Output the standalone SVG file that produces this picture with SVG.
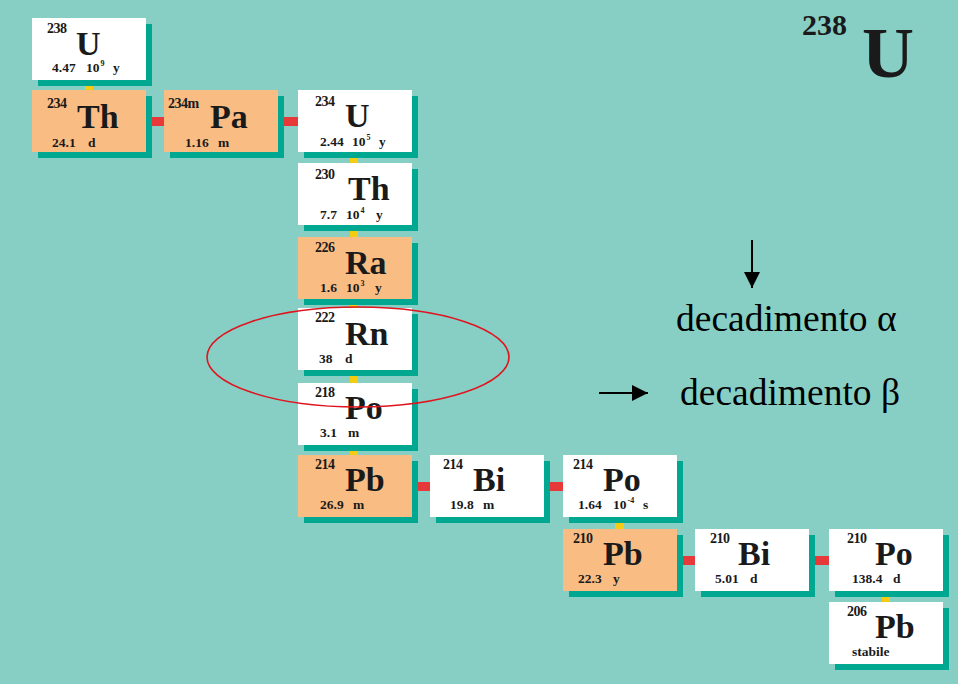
<svg xmlns="http://www.w3.org/2000/svg" width="958" height="684" viewBox="0 0 958 684">
<defs>
<style>
.bg{fill:#87cfc5}
.sh{fill:#00a892}
.w{fill:#ffffff}
.o{fill:#f9bc83}
.beta{fill:#e8393a}
.alpha{fill:#f5cc12}
text{font-family:"Liberation Serif","Times New Roman",serif;fill:#1a1a1a}
.m{font-size:14px;font-weight:bold;letter-spacing:-0.5px}
.s{font-size:34px;font-weight:bold}
.h{font-size:13.5px;font-weight:bold}
.sup{font-size:8px}
.lg{font-size:37.5px;fill:#000}
</style>
<marker id="ah" viewBox="0 0 16 16" refX="16" refY="8" markerWidth="16" markerHeight="16" markerUnits="userSpaceOnUse" orient="auto">
<path d="M0,0 L16,8 L0,16 Z" fill="#000"/>
</marker>
</defs>
<rect class="bg" x="0" y="0" width="958" height="684"/>

<g id="connectors">
<rect class="alpha" x="85" y="79" width="8" height="12"/>
<rect class="beta" x="145" y="117" width="20" height="9"/>
<rect class="beta" x="277" y="117" width="22" height="9"/>
<rect class="alpha" x="350" y="151" width="8" height="13"/>
<rect class="alpha" x="350" y="224" width="8" height="14"/>
<rect class="alpha" x="350" y="298" width="8" height="11"/>
<rect class="alpha" x="350" y="370" width="8" height="14"/>
<rect class="alpha" x="350" y="444" width="8" height="12"/>
<rect class="beta" x="411" y="482" width="20" height="9"/>
<rect class="beta" x="544" y="482" width="20" height="9"/>
<rect class="alpha" x="615" y="516" width="9" height="14"/>
<rect class="beta" x="676" y="556" width="20" height="9"/>
<rect class="beta" x="808" y="556" width="22" height="9"/>
<rect class="alpha" x="882" y="590" width="8" height="13"/>
</g>

<g id="U238" transform="translate(32,18)">
<rect class="sh" x="6" y="6" width="114" height="62"/>
<rect class="w" width="114" height="62"/>
<text class="m" x="15" y="15">238</text>
<text class="s" x="44" y="37">U</text>
<text class="h" x="20" y="54">4.47<tspan x="54">10</tspan><tspan class="sup" dx="1" dy="-6">9</tspan><tspan x="81" dy="6">y</tspan></text>
</g>

<g id="Th234" transform="translate(32,90)">
<rect class="sh" x="6" y="6" width="114" height="62"/>
<rect class="o" width="114" height="62"/>
<text class="m" x="15" y="18">234</text>
<text class="s" x="45" y="38">Th</text>
<text class="h" x="20" y="57">24.1<tspan x="56">d</tspan></text>
</g>

<g id="Pa234m" transform="translate(164,90)">
<rect class="sh" x="6" y="6" width="114" height="62"/>
<rect class="o" width="114" height="62"/>
<text class="m" x="4" y="18">234m</text>
<text class="s" x="46" y="38">Pa</text>
<text class="h" x="21" y="57">1.16<tspan x="54">m</tspan></text>
</g>

<g id="U234" transform="translate(298,90)">
<rect class="sh" x="6" y="6" width="114" height="62"/>
<rect class="w" width="114" height="62"/>
<text class="m" x="17" y="16">234</text>
<text class="s" x="47" y="37">U</text>
<text class="h" x="22" y="56">2.44<tspan x="54">10</tspan><tspan class="sup" dx="1" dy="-6">5</tspan><tspan x="81" dy="6">y</tspan></text>
</g>

<g id="Th230" transform="translate(298,163)">
<rect class="sh" x="6" y="6" width="114" height="62"/>
<rect class="w" width="114" height="62"/>
<text class="m" x="17" y="16">230</text>
<text class="s" x="50" y="37">Th</text>
<text class="h" x="22" y="56">7.7<tspan x="48">10</tspan><tspan class="sup" dx="1" dy="-6">4</tspan><tspan x="78" dy="6">y</tspan></text>
</g>

<g id="Ra226" transform="translate(298,237)">
<rect class="sh" x="6" y="6" width="114" height="62"/>
<rect class="o" width="114" height="62"/>
<text class="m" x="17" y="15">226</text>
<text class="s" x="47" y="37">Ra</text>
<text class="h" x="22" y="55">1.6<tspan x="48">10</tspan><tspan class="sup" dx="1" dy="-6">3</tspan><tspan x="77" dy="6">y</tspan></text>
</g>

<g id="Rn222" transform="translate(298,308)">
<rect class="sh" x="6" y="6" width="114" height="62"/>
<rect class="w" width="114" height="62"/>
<text class="m" x="17" y="14">222</text>
<text class="s" x="47" y="37">Rn</text>
<text class="h" x="21" y="55">38<tspan x="47">d</tspan></text>
</g>

<g id="Po218" transform="translate(298,383)">
<rect class="sh" x="6" y="6" width="114" height="62"/>
<rect class="w" width="114" height="62"/>
<text class="m" x="17" y="14">218</text>
<text class="s" x="47" y="36">Po</text>
<text class="h" x="22" y="54">3.1<tspan x="50">m</tspan></text>
</g>

<g id="Pb214" transform="translate(298,455)">
<rect class="sh" x="6" y="6" width="114" height="62"/>
<rect class="o" width="114" height="62"/>
<text class="m" x="17" y="14">214</text>
<text class="s" x="47" y="36">Pb</text>
<text class="h" x="22" y="54">26.9<tspan x="55">m</tspan></text>
</g>

<g id="Bi214" transform="translate(430,455)">
<rect class="sh" x="6" y="6" width="114" height="62"/>
<rect class="w" width="114" height="62"/>
<text class="m" x="13" y="14">214</text>
<text class="s" x="43" y="36">Bi</text>
<text class="h" x="20" y="54">19.8<tspan x="53">m</tspan></text>
</g>

<g id="Po214" transform="translate(563,455)">
<rect class="sh" x="6" y="6" width="114" height="62"/>
<rect class="w" width="114" height="62"/>
<text class="m" x="10" y="14">214</text>
<text class="s" x="40" y="36">Po</text>
<text class="h" x="15" y="54">1.64<tspan x="50">10</tspan><tspan class="sup" dx="1" dy="-6">-4</tspan><tspan x="80" dy="6">s</tspan></text>
</g>

<g id="Pb210" transform="translate(563,529)">
<rect class="sh" x="6" y="6" width="114" height="62"/>
<rect class="o" width="114" height="62"/>
<text class="m" x="10" y="14">210</text>
<text class="s" x="40" y="36">Pb</text>
<text class="h" x="15" y="54">22.3<tspan x="50">y</tspan></text>
</g>

<g id="Bi210" transform="translate(695,529)">
<rect class="sh" x="6" y="6" width="114" height="62"/>
<rect class="w" width="114" height="62"/>
<text class="m" x="15" y="14">210</text>
<text class="s" x="43" y="36">Bi</text>
<text class="h" x="20" y="54">5.01<tspan x="55">d</tspan></text>
</g>

<g id="Po210" transform="translate(829,529)">
<rect class="sh" x="6" y="6" width="114" height="62"/>
<rect class="w" width="114" height="62"/>
<text class="m" x="18" y="14">210</text>
<text class="s" x="46" y="36">Po</text>
<text class="h" x="23" y="54">138.4<tspan x="64">d</tspan></text>
</g>

<g id="Pb206" transform="translate(829,602)">
<rect class="sh" x="6" y="6" width="114" height="62"/>
<rect class="w" width="114" height="62"/>
<text class="m" x="18" y="14">206</text>
<text class="s" x="46" y="36">Pb</text>
<text class="h" x="23" y="54">stabile</text>
</g>

<ellipse id="highlight" cx="358" cy="357" rx="151" ry="50" fill="none" stroke="#e0141e" stroke-width="1.6"/>

<g id="legend">
<line x1="752" y1="240" x2="752" y2="288" stroke="#000" stroke-width="2" marker-end="url(#ah)"/>
<text class="lg" x="676" y="331">decadimento α</text>
<line x1="599" y1="393" x2="648" y2="393" stroke="#000" stroke-width="2" marker-end="url(#ah)"/>
<text class="lg" x="680" y="405">decadimento β</text>
</g>

<g id="title">
<text x="802" y="35" style="font-size:30px;font-weight:bold">238</text>
<text x="862" y="77" style="font-size:72px;font-weight:bold">U</text>
</g>
</svg>
